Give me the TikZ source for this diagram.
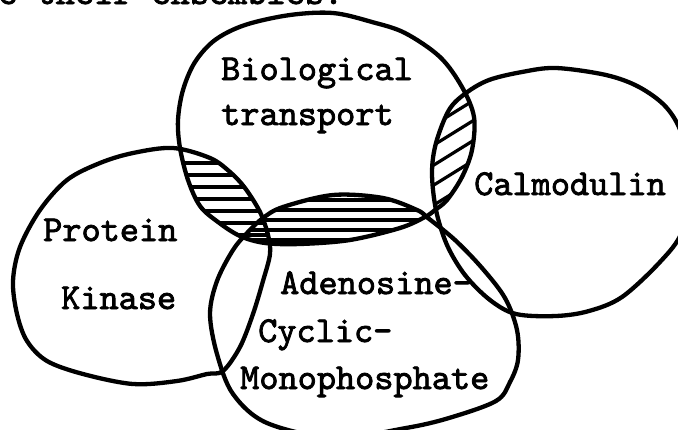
\documentclass[tikz,border=0pt]{standalone}
\usepackage{fontspec}
\newfontfamily\typewriter{lmmono10-regular.otf}[FakeBold=2.2]
\usepackage{tikz}

\newcommand{\venntext}{\typewriter\fontsize{36.5}{45}\selectfont}

% outlines of the four sets, in pixel units
\newcommand{\bioshape}{plot[smooth cycle, tension=0.55] coordinates {
  (333,13) (372,22) (405,33) (440,57) (462,87) (474,117) (472,150)
  (462,177) (447,200) (435,210) (425,217) (400,228) (350,240) (300,244)
  (265,243) (240,236) (218,222) (200,206) (188,180) (180,148) (178,120)
  (183,90) (195,62) (215,40) (245,25) (290,15)}}
\newcommand{\calmshape}{plot[smooth cycle, tension=0.55] coordinates {
  (466,93) (489,80) (522,72) (556,68) (606,75) (639,87) (666,107)
  (682,135) (692,185) (682,232) (660,262) (622,297) (589,311) (556,316)
  (516,314) (490,300) (465,275) (447,245) (436,210) (432,173) (436,143)
  (449,110)}}
\newcommand{\camshape}{plot[smooth cycle, tension=0.55] coordinates {
  (263,218) (283,207) (333,195) (383,198) (417,210) (428,218) (455,240)
  (482,268) (505,298) (517,330) (518,360) (510,382) (496,401) (449,418)
  (406,428) (335,438) (267,423) (233,394) (217,354) (210,314) (217,281)
  (233,250) (248,232)}}
\newcommand{\protshape}{plot[smooth cycle, tension=0.55] coordinates {
  (173,148) (133,153) (100,163) (67,180) (40,210) (20,247) (13,281)
  (17,314) (27,341) (47,361) (83,374) (133,384) (177,381) (207,374)
  (223,371) (240,347) (253,314) (263,281) (270,254) (268,235) (260,212)
  (245,188) (230,172) (210,158)}}

\begin{document}
\begin{tikzpicture}[
  x=1pt, y=-1pt,
  setline/.style={line width=4.3pt, line join=round, line cap=round},
  hatch/.style={line width=3.2pt, line cap=round},
  label/.style={font=\venntext, anchor=base west, inner sep=0pt}
]
\useasboundingbox (0,0) rectangle (678,429);

% hatched overlaps
\begin{scope}
  \clip \bioshape;
  \clip \protshape;
  \foreach \y in {163,175,...,250}
    \draw[hatch] (150,\y) -- (300,\y);
\end{scope}
\begin{scope}
  \clip \bioshape;
  \clip \camshape;
  \foreach \y in {200,210,...,245}
    \draw[hatch] (220,\y) -- (440,\y);
\end{scope}
\begin{scope}
  \clip \bioshape;
  \clip \calmshape;
  \foreach \y in {95,115,...,235}
    \draw[hatch] (400,\y+31) -- (500,\y-31);
\end{scope}

% the four sets
\draw[setline] \bioshape;
\draw[setline] \calmshape;
\draw[setline] \camshape;
\draw[setline] \protshape;

% texts
\node[label] (top) at (-2,4) {e their ensembles.};
\node[label] (bio1) at (221,80) {Biological};
\node[label] (bio2) at (221,125) {transport};
\node[label] (calm) at (474,195) {Calmodulin};
\node[label] (prot1) at (43,241) {Protein};
\node[label] (prot2) at (61,309) {Kinase};
\node[label] (camp1) at (280,294) {Adenosine-};
\node[label] (camp2) at (258,342) {Cyclic-};
\node[label] (camp3) at (240,389) {Monophosphate};
\end{tikzpicture}
\end{document}
